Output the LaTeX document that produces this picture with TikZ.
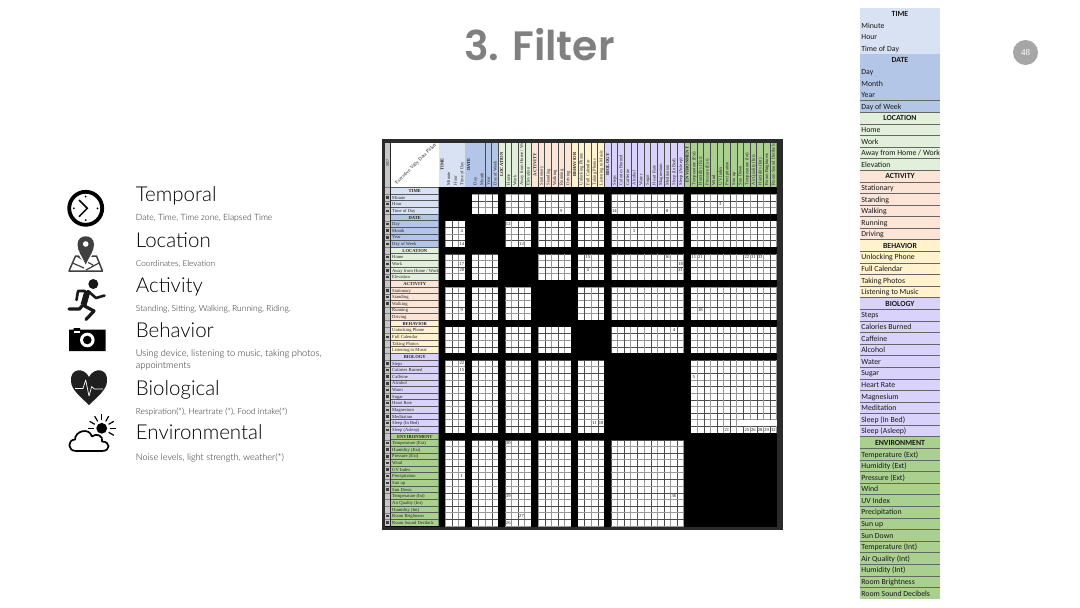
\documentclass[tikz,border=0pt]{standalone}
\usepackage{fontspec}
\usetikzlibrary{calc}
\setmainfont{Liberation Serif}
\newfontfamily\titlef[UprightFont=* SemiBold]{Poppins}
\newfontfamily\lightf[UprightFont=* Light]{Lato}
\newfontfamily\carlf{Carlito}
\definecolor{sec0}{HTML}{D9E2F3}
\definecolor{sec1}{HTML}{B4C6E7}
\definecolor{sec2}{HTML}{E2EFDA}
\definecolor{sec3}{HTML}{FCE4D6}
\definecolor{sec4}{HTML}{FFF2CC}
\definecolor{sec5}{HTML}{D9D2FB}
\definecolor{sec6}{HTML}{A9D08E}
\def\rowlist{TIME/0/2,Minute/0/1,Hour/0/1,Time of Day/0/1,
DATE/1/2,Day/1/1,Month/1/1,Year/1/1,Day of Week/1/1,
LOCATION/2/2,Home/2/1,Work/2/1,{Away from Home / Work}/2/1,Elevation/2/1,
ACTIVITY/3/2,Stationary/3/1,Standing/3/1,Walking/3/1,Running/3/0,Driving/3/0,
BEHAVIOR/4/2,Unlocking Phone/4/0,Full Calendar/4/1,Taking Photos/4/0,Listening to Music/4/0,
BIOLOGY/5/2,Steps/5/1,Calories Burned/5/1,Caffeine/5/1,Alcohol/5/1,Water/5/1,Sugar/5/1,Heart Rate/5/1,Magnesium/5/1,Meditation/5/1,Sleep (In Bed)/5/1,Sleep (Asleep)/5/1,
ENVIRONMENT/6/2,Temperature (Ext)/6/1,Humidity  (Ext)/6/1,Pressure  (Ext)/6/1,Wind/6/1,UV Index/6/1,Precipitation/6/1,Sun up/6/1,Sun Down/6/1,Temperature (Int)/6/0,Air Quality (Int)/6/0,Humidity  (Int)/6/0,Room Brightness/6/1,Room Sound Decibels/6/1}
\tikzset{
 cellsize/.style={inner sep=0pt,font=\fontsize{4.6}{5}\selectfont,text=black!85},
 cellnum/.style={inner sep=0pt,font=\fontsize{4.6}{5}\selectfont,text=black!90},
 sidetext/.style={inner sep=0pt,anchor=base west,font=\carlf\fontsize{7.8}{9}\selectfont,text=black!90},
 headtext/.style={inner sep=0pt,anchor=base west,font=\lightf\fontsize{20.5}{24}\selectfont,text=black},
 subtext/.style={inner sep=0pt,anchor=base west,text=black!85},
}
\newcommand{\subf}[1]{\lightf\fontsize{#1}{12}\selectfont}
\begin{document}
\begin{tikzpicture}[x=1pt,y=-1pt]
\useasboundingbox (0,0) rectangle (1080,608);
\fill[white] (0,0) rectangle (1080,608);
% title and page number
\node[inner sep=0pt,font=\titlef\fontsize{41}{46}\selectfont,text=black!50] (title) at (539.5,45) {3. Filter};
\node[circle,fill=black!35,minimum size=25pt,inner sep=0pt,font=\fontsize{9}{10}\selectfont,text=white] (pagenum) at (1025.5,52.5) {48};
% left list
\node[headtext] (h1) at (135.7,201.7) {Temporal};
\node[subtext,font=\subf{8.6}] (s1) at (135.7,220.7) {Date, Time, Time zone, Elapsed Time};
\node[headtext] (h2) at (135.7,247.3) {Location};
\node[subtext,font=\subf{8.2}] (s2) at (135.7,266) {Coordinates, Elevation};
\node[headtext] (h3) at (135.7,292.3) {Activity};
\node[subtext,font=\subf{8.5}] (s3) at (135.7,311) {Standing, Sitting, Walking, Running, Riding.};
\node[headtext] (h4) at (135.7,337.3) {Behavior};
\node[subtext,font=\subf{9.3}] (s4a) at (135.7,356) {Using device, listening to music, taking photos,};
\node[subtext,font=\subf{9.3}] (s4b) at (135.7,368.7) {appointments};
\node[headtext] (h5) at (135.7,395) {Biological};
\node[subtext,font=\subf{8.4}] (s5) at (135.7,414) {Respiration(*),  Heartrate (*),  Food intake(*)};
\node[headtext] (h6) at (135.7,439.3) {Environmental};
\node[subtext,font=\subf{9.1}] (s6) at (135.7,460) {Noise levels, light strength,  weather(*)};
% clock
\draw[line width=3.8pt] (85.7,208.3) circle (16.5pt);
\draw[line width=1.5pt] (79,200) -- (87.3,208.3) -- (79,216.7);
\foreach \a in {0,90,180,270} \fill ($(85.7,208.3)+(\a:11.8pt)$) circle (1pt);
% pin and map
\draw[black!75,line width=1.5pt,line join=round] (75.5,256) -- (96.5,256) -- (102.5,271) -- (69,271) -- cycle;
\draw[black!75,line width=1.2pt] (72.5,263) -- (84,268) (99,263) -- (86,270) (78,257) -- (93,265);
\fill[white] (85.7,266.5) -- (76,250) -- (95,250) -- cycle;
\fill[black!75] (85.7,264.5) .. controls (82,256) and (77.5,251) .. (77.5,244.5) .. controls (77.5,233.5) and (94,233.5) .. (94,244.5) .. controls (94,251) and (89.5,256) .. (85.7,264.5) -- cycle;
\fill[white] (85.7,244) circle (2.8pt);
% runner
\fill[black!90] (93.3,284) circle (5pt);
\draw[black!90,line width=6pt] (87.5,291) -- (83.5,305);
\draw[black!90,line width=2.6pt,line cap=round,line join=round] (88,291) -- (96,298) -- (104.5,295.5) (85,291) -- (78,291) -- (76.5,300);
\draw[black!90,line width=3.2pt,line cap=round,line join=round] (82.3,305.5) -- (79.5,309) -- (69,309) (84.5,306) -- (94,311) -- (86,319.5);
% camera
\fill (69,329.5) -- (73.5,329.5) -- (73.5,328) -- (80,328) -- (80,329.5) -- (105.7,329.5) -- (105.7,351) -- (69,351) -- cycle;
\fill[white] (73.5,331) rectangle (80,333);
\fill[white] (87.3,340) circle (7.3pt);
\fill (87.3,340) circle (4.3pt);
% heart
\fill[black!88] (89,377) .. controls (84,367) and (70,368) .. (71,381) .. controls (71,390) and (82,398) .. (89,405) .. controls (96,398) and (107,390) .. (107,381) .. controls (108,368) and (94,367) .. (89,377) -- cycle;
\draw[white,line width=0.7pt,line join=round] (75,388.5) -- (83,388.5) -- (85.7,380) -- (89,396) -- (91.7,386.5) -- (94.3,389) -- (103,389);
% sun and cloud
\fill (101.7,428.3) circle (5.4pt);
\foreach \a in {-30,0,30,60,90,120,150,180}
 \draw[line width=1.2pt] ($(101.7,428.3)+(\a:8pt)$) -- ($(101.7,428.3)+(\a:14pt)$);
\draw[fill=white,line width=1.7pt,line join=round] (76,451) .. controls (67.5,451) and (67,440) .. (75,439.5) .. controls (75,431) and (89,427) .. (92,436.5) .. controls (96,432.5) and (104,436) .. (102,441.5) .. controls (110.5,441.5) and (111,451) .. (102,451) -- cycle;
% matrix frame
\fill[black!83] (382,139) rectangle (782.7,530);
\fill[black] (384.5,186.7) rectangle (776.7,526.7);
% grid field
\fill[white] (445.3,187.5) rectangle (776.7,526.1);
\foreach \i in {1,...,51}{
 \pgfmathsetmacro{\lx}{438.7+6.627*\i}
 \pgfmathsetmacro{\ly}{187.5+6.637*\i}
 \pgfmathtruncatemacro{\od}{mod(\i,2)}
 \ifnum\od=0
  \draw[black!70,line width=0.4pt] (\lx,187.5) -- (\lx,526.1);
  \draw[black!70,line width=0.4pt] (445.3,\ly) -- (776.7,\ly);
 \else
  \draw[black!40,line width=0.9pt] (\lx,187.5) -- (\lx,526.1);
  \draw[black!40,line width=0.9pt] (445.3,\ly) -- (776.7,\ly);
 \fi
}
% white band in Sleep (In Bed)
\fill[white] (743,420.4) rectangle (776.7,426.4);
% numbers
\foreach \r/\c/\t in {3/18/9,6/3/4,8/3/14,5/10/12,8/12/13,11/3/17,12/3/20,18/3/9,10/22/15,12/22/4,3/26/14,3/34/8,2/42/3,6/29/5,10/34/16,11/36/18,12/36/21,10/38/11,10/39/21,10/46/22,10/47/31,10/48/33,18/39/18,21/35/4,26/3/22,27/3/15,38/10/30,43/3/1,46/10/39,49/12/27,50/10/26,28/38/5,35/23/11,35/24/18,36/43/21,36/46/25,36/47/26,36/48/28,36/49/29,36/50/32,46/35/36}{
 \pgfmathsetmacro{\nx}{438.7+6.627*(\c+0.5)}
 \pgfmathsetmacro{\ny}{187.5+6.637*(\r+0.5)}
 \node[cellnum] (n\r x\c) at (\nx,\ny) {\t};
}
% black bars: section rows and columns, diagonal blocks
\foreach \s in {0,4,9,14,20,25,37}{
 \pgfmathsetmacro{\lx}{438.7+6.627*\s}
 \pgfmathsetmacro{\ly}{187.5+6.637*\s}
 \fill[black] (\lx,187.5) rectangle (\lx+6.627,526.7);
 \fill[black] (438.7,\ly) rectangle (777.2,\ly+6.637);
}
\foreach \a/\b/\xe/\ye in {0/4/0/0,4/9/0/0,9/14/0/0,14/20/0/0,20/25/0/0,25/37/0/0,37/51/0.5/0.8}{
 \pgfmathsetmacro{\lxa}{438.7+6.627*\a}
 \pgfmathsetmacro{\lxb}{438.7+6.627*\b+\xe}
 \pgfmathsetmacro{\lya}{187.5+6.637*\a}
 \pgfmathsetmacro{\lyb}{187.5+6.637*\b+\ye}
 \fill[black] (\lxa,\lya) rectangle (\lxb,\lyb);
}
% header strip
\fill[white] (390.7,142.5) rectangle (438.7,186.5);
\fill[black!22] (384.5,142.5) rectangle (390.7,186.5);
\node[cellsize,rotate=90,font=\fontsize{4}{5}\selectfont] (mvp) at (387.6,163) {M57};
\node[cellsize,rotate=45,font=\fontsize{5}{5}\selectfont] (pick) at (416,164) {Executive Vally Data Picker};
\draw[black!85,line width=0.9pt] (390.7,142.5) -- (390.7,526.7);
\begin{scope}
\clip (438.7,142.5) rectangle (776.7,186.6);
\foreach \lab/\sc/\mk [count=\i from 0] in \rowlist {
 \pgfmathsetmacro{\lx}{438.7+6.627*\i}
 \pgfmathsetmacro{\tx}{\lx+3.313+1.5}
 \fill[sec\sc] (\lx,142.5) rectangle (\lx+6.7,186.6);
 \ifnum\i>6 \draw[black!70,line width=0.7pt] (\lx,142.5) -- (\lx,186.6); \fi
 \ifnum\mk=2
  \node[cellsize,rotate=90,font=\bfseries\fontsize{4.6}{5}\selectfont] (hc\i) at (\tx-1.5,164.5) {\lab};
 \else
  \node[cellsize,rotate=90,anchor=base west] (hc\i) at (\tx,185.5) {\lab};
 \fi
}
\end{scope}
% row labels
\begin{scope}
\clip (384.5,187.5) rectangle (438.7,526.7);
\foreach \lab/\sc/\mk [count=\i from 0] in \rowlist {
 \pgfmathsetmacro{\ly}{187.5+6.637*\i}
 \pgfmathsetmacro{\tb}{\ly+5}
 \fill[sec\sc] (391,\ly) rectangle (438.7,\ly+6.7);
 \fill[black!22] (384.5,\ly) rectangle (390.3,\ly+6.7);
 \draw[black!65,line width=0.8pt] (391,\ly) -- (438.7,\ly);
 \draw[black!50,line width=0.3pt] (384.5,\ly) -- (390.3,\ly);
 \ifnum\mk=2
  \node[cellsize,font=\bfseries\fontsize{4.6}{5}\selectfont,anchor=base] (rl\i) at (414.8,\tb) {\lab};
 \else
  \node[cellsize,anchor=base west] (rl\i) at (392,\tb) {\lab};
  \ifnum\mk=1
   \fill[black!75] (386.2,\ly+2.1) rectangle (388.7,\ly+4.6);
  \fi
 \fi
}
\end{scope}
% side table
\foreach \lab/\sc/\mk [count=\i from 0] in \rowlist {
 \pgfmathsetmacro{\ly}{8+11.59*\i}
 \pgfmathsetmacro{\tb}{\ly+8.6}
 \fill[sec\sc] (860,\ly) rectangle (940,\ly+11.7);
 \ifnum\i>7 \draw[black!60,line width=0.7pt] (860,\ly) -- (940,\ly); \fi
 \ifnum\mk=2
  \node[sidetext,font=\carlf\bfseries\fontsize{7.8}{9}\selectfont,anchor=base] (sd\i) at (900,\tb) {\lab};
 \else
  \node[sidetext] (sd\i) at (861.2,\tb) {\lab};
 \fi
}
\end{tikzpicture}
\end{document}
